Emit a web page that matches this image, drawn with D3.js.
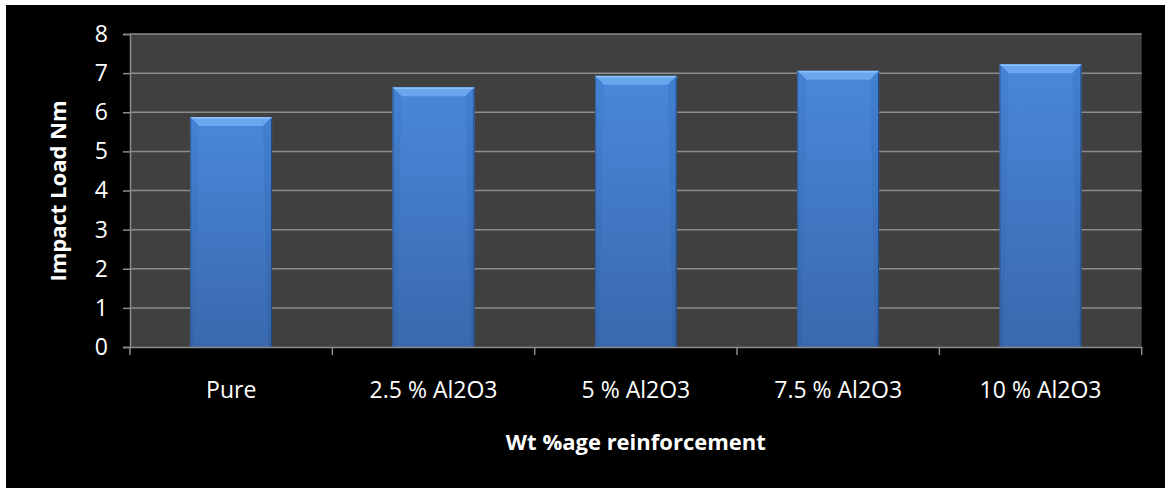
<!DOCTYPE html>
<html><head><meta charset="utf-8">
<script src="https://cdn.jsdelivr.net/npm/d3@7"></script>
<style>
html,body{margin:0;padding:0;background:#fff;}
svg{display:block;}
text{font-family:"Open Sans",sans-serif;fill:#fff;}
</style></head><body>
<script>
const categories = ["Pure", "2.5 % Al2O3", "5 % Al2O3", "7.5 % Al2O3", "10 % Al2O3"];
const values = [5.88, 6.64, 6.93, 7.06, 7.23];
const yTicks = [0, 1, 2, 3, 4, 5, 6, 7, 8];
const yTitle = "Impact Load Nm";
const xTitle = "Wt %age reinforcement";

const W = 1165, H = 488;
const m = {left:130, top:34, right:1165-1141.7, bottom:488-347};
const svg = d3.select("body").append("svg").attr("width", W).attr("height", H);

svg.append("rect").attr("x",6).attr("y",5).attr("width",W-6).attr("height",H-5).attr("fill","#000");

const x = d3.scaleBand().domain(categories).range([m.left, W-m.right]);
const y = d3.scaleLinear().domain([0,8]).range([H-m.bottom, m.top]);

svg.append("rect").attr("x", m.left).attr("y", y(8)).attr("width", x.range()[1]-m.left)
  .attr("height", y(0)-y(8)).attr("fill", "#404040");

svg.append("g").selectAll("line").data(yTicks.filter(d=>d>0)).join("line")
  .attr("x1", m.left).attr("x2", x.range()[1]).attr("y1", d=>y(d)).attr("y2", d=>y(d))
  .attr("stroke", "#8c8c8c").attr("stroke-width", 1.5);

const defs = svg.append("defs");
const g1 = defs.append("linearGradient").attr("id","barg").attr("x1",0).attr("x2",0).attr("y1",0).attr("y2",1);
g1.append("stop").attr("offset","0%").attr("stop-color","#4a88da");
g1.append("stop").attr("offset","100%").attr("stop-color","#3968ad");
const gs = defs.append("linearGradient").attr("id","sideg").attr("x1",0).attr("x2",0).attr("y1",0).attr("y2",1);
gs.append("stop").attr("offset","0%").attr("stop-color","#4280d2");
gs.append("stop").attr("offset","100%").attr("stop-color","#3463a5");

const bw = x.bandwidth()*0.404;
const bev = 9;
const bars = svg.append("g").selectAll("g").data(values).join("g");
bars.each(function(v,i){
  const g = d3.select(this);
  const x0 = x(categories[i]) + (x.bandwidth()-bw)/2, x1 = x0+bw;
  const yt = y(v), yb = y(0);
  g.append("rect").attr("x",x0).attr("y",yt).attr("width",bw).attr("height",yb-yt).attr("fill","url(#barg)");
  g.append("polygon").attr("points",[[x0,yt],[x1,yt],[x1-bev,yt+bev],[x0+bev,yt+bev]].join(" ")).attr("fill","#6aa6ee");
  g.append("line").attr("x1",x0+1).attr("x2",x1-1).attr("y1",yt+1).attr("y2",yt+1).attr("stroke","#8cc0fa").attr("stroke-width",1.5);
  g.append("polygon").attr("points",[[x0,yt],[x0+bev,yt+bev],[x0+4,yb],[x0,yb]].join(" ")).attr("fill","url(#sideg)").attr("opacity",0.7);
  g.append("polygon").attr("points",[[x1,yt],[x1-bev,yt+bev],[x1-4,yb],[x1,yb]].join(" ")).attr("fill","url(#sideg)");
  g.append("line").attr("x1",x1-0.5).attr("x2",x1-0.5).attr("y1",yt+2).attr("y2",yb).attr("stroke","#22467a").attr("stroke-width",1);
  g.append("line").attr("x1",x0+0.5).attr("x2",x0+0.5).attr("y1",yt+2).attr("y2",yb).attr("stroke","#2f5d9e").attr("stroke-width",1);
});

const yAxis = svg.append("g").attr("transform",`translate(${m.left},0)`)
  .call(d3.axisLeft(y).tickValues(yTicks).tickSize(7).tickPadding(15).tickFormat(d3.format("d")));
yAxis.select(".domain").attr("stroke","#8c8c8c").attr("stroke-width",1.5);
yAxis.selectAll(".tick line").attr("stroke","#8c8c8c").attr("stroke-width",1.5);
yAxis.selectAll("text").attr("fill","#fff").style("font-size","23px").style("font-family","'Open Sans',sans-serif");

const xAxis = svg.append("g").attr("transform",`translate(0,${y(0)})`)
  .call(d3.axisBottom(x).tickSize(0).tickPadding(35));
xAxis.select(".domain").attr("stroke","#8c8c8c").attr("stroke-width",1.5);
xAxis.selectAll("text").attr("fill","#fff").style("font-size","23px").style("font-family","'Open Sans',sans-serif");
const bounds = categories.map(c=>x(c)).concat([x.range()[1]]);
xAxis.append("g").selectAll("line").data(bounds).join("line")
  .attr("x1",d=>d).attr("x2",d=>d).attr("y1",0).attr("y2",8)
  .attr("stroke","#8c8c8c").attr("stroke-width",1.5);

svg.append("text").attr("transform",`translate(66,191) rotate(-90)`).attr("text-anchor","middle")
  .style("font-size","22px").style("font-weight","bold").text(yTitle);
svg.append("text").attr("x",(m.left+x.range()[1])/2).attr("y",450).attr("text-anchor","middle")
  .style("font-size","22px").style("font-weight","bold").text(xTitle);
</script>
</body></html>
